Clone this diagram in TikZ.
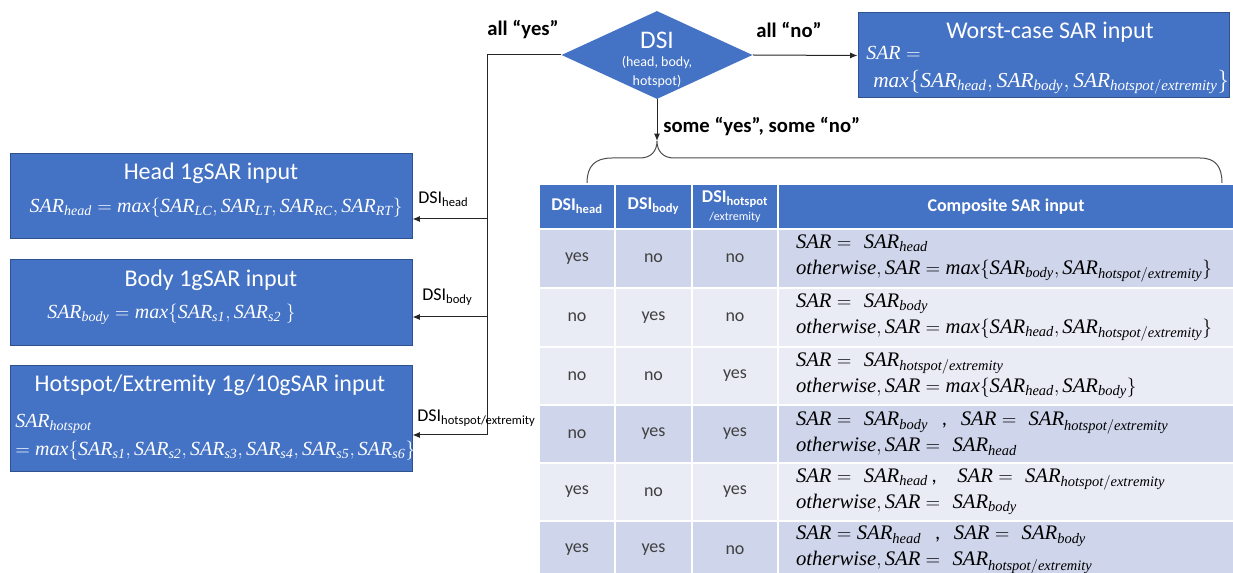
\documentclass[tikz,border=0pt]{standalone}
\usepackage{fontspec}
\setmainfont{Carlito}
\newfontfamily\libser[NFSSFamily=libser]{Liberation Serif}
\DeclareMathAlphabet{\mathlib}{TU}{libser}{m}{it}
\usetikzlibrary{shapes.geometric,arrows.meta}
\definecolor{obl}{HTML}{4472C4}
\definecolor{obd}{HTML}{2F528F}
\definecolor{rowA}{HTML}{CFD5EA}
\definecolor{rowB}{HTML}{E9EBF5}
\newcommand{\Sv}{\mathlib{SAR}}
\newcommand{\Ss}[1]{\mathlib{SAR}_{\mathlib{#1}}}
\newcommand{\Mx}{\mathlib{max}}
\newcommand{\Ow}{\mathlib{otherwise}}
\begin{document}
\begin{tikzpicture}[x=0.75pt,y=-0.75pt,
  bluebox/.style={fill=obl, draw=obd, line width=0.75pt, inner sep=0, minimum width=301.5pt},
  ttl/.style={text=white, font=\fontsize{18}{21}\selectfont, inner sep=0},
  wmath/.style={text=white, font=\fontsize{15}{17}\selectfont, inner sep=0},
  lbl/.style={font=\bfseries\fontsize{15.5}{18}\selectfont, inner sep=0},
  dsil/.style={font=\fontsize{13.5}{16}\selectfont, inner sep=0, anchor=west},
  conn/.style={draw=black!85, line width=0.75pt},
  arr/.style={conn, -{Latex[length=5.5pt,width=4.5pt]}},
  hcell/.style={fill=obl, draw=white, line width=1.5pt, anchor=north west, inner sep=0, text=white, align=center, font=\bfseries\fontsize{13.5}{14}\selectfont},
  cell/.style={draw=white, line width=1.5pt, anchor=north west, inner sep=0, text=black!75, font=\fontsize{13.5}{15}\selectfont},
  ccell/.style={cell, align=left, text width=315pt, inner xsep=13.5pt, text=black, font=\fontsize{15.5}{19.5}\selectfont}
]
\useasboundingbox (0,0) rectangle (1233,573);

% decision diamond
\node[diamond, fill=obl, draw=none, minimum width=143.25pt, minimum height=66pt, inner sep=0] (dsi) at (657,55) {};
\node[text=white, font=\fontsize{19}{21}\selectfont, inner sep=0] (dsiT) at (657,40) {DSI};
\node[text=white, font=\fontsize{10.5}{14}\selectfont, align=center, inner sep=0] (dsiS) at (657,72) {(head, body,\\hotspot)};

% worst case box
\node[bluebox, minimum width=278.25pt, minimum height=63.75pt] (worst) at (1043.5,55.5) {};
\node[ttl] (worstT) at (1050,32) {Worst-case SAR input};
\node[wmath, anchor=west] (worstF1) at (866,53) {$\Sv =$};
\node[wmath, anchor=west, font=\fontsize{16}{18}\selectfont] (worstF2) at (873,82) {$\Mx\bigl\{\Ss{head},\Ss{body},\Ss{hotspot/extremity}\bigr\}$};

% left boxes
\node[bluebox, minimum height=63.75pt] (head) at (211,196.5) {};
\node[ttl] (headT) at (211,173) {Head 1gSAR input};
\node[wmath] (headF) at (216,208) {$\Ss{head} = \Mx\{\Ss{LC},\Ss{LT},\Ss{RC},\Ss{RT}\}$};

\node[bluebox, minimum height=64.5pt] (body) at (211,303) {};
\node[ttl] (bodyT) at (211,280) {Body 1gSAR input};
\node[wmath, anchor=west] (bodyF) at (47,314) {$\Ss{body} = \Mx\{\Ss{s1},\Ss{s2}\ \}$};

\node[bluebox, minimum height=79.5pt] (hot) at (211,419) {};
\node[ttl] (hotT) at (210,385) {Hotspot/Extremity 1g/10gSAR input};
\node[wmath, anchor=west] (hotF1) at (15,424) {$\Ss{hotspot}$};
\node[wmath, anchor=west] (hotF2) at (15,451) {$= \Mx\{\Ss{s1},\Ss{s2},\Ss{s3},\Ss{s4},\Ss{s5},\Ss{s6}\}$};

% branch labels
\node[lbl] (ally) at (523,30) {all “yes”};
\node[lbl] (alln) at (789,30) {all “no”};
\node[lbl, anchor=west] (some) at (663,126) {some “yes”, some “no”};

% connectors
\draw[arr] (dsi.east) -- (worst.west);
\coordinate (busTop) at (487,55);
\coordinate (tapH) at (487,219);
\coordinate (tapB) at (487,317);
\coordinate (busBot) at (487,435);
\draw[conn] (dsi.west) -- (busTop) -- (busBot);
\draw[arr] (tapH) -- (head.east |- tapH);
\draw[arr] (tapB) -- (body.east |- tapB);
\draw[arr] (busBot) -- (hot.east |- busBot);
\node[dsil] (lH) at (418,199) {DSI\textsubscript{head}};
\node[dsil] (lB) at (422,297) {DSI\textsubscript{body}};
\node[dsil] (lX) at (417,418) {DSI\textsubscript{hotspot/extremity}};

% brace
\coordinate (tip) at (657,141);
\draw[arr] (dsi.south) -- (tip);
\draw[draw=black!70, line width=0.75pt] (587,183) .. controls (587,166) and (595,158) .. (612,158) -- (640,158) .. controls (651,158) and (657,151) .. (tip) .. controls (657,151) and (663,158) .. (674,158) -- (1200,158) .. controls (1215,158) and (1222,166) .. (1222,183);

% table header
\node[hcell, minimum width=57pt, minimum height=33.75pt] (h1) at (538,183) {DSI\textsubscript{head}};
\node[hcell, minimum width=57.75pt, minimum height=33.75pt] (h2) at (614,183) {DSI\textsubscript{body}};
\node[hcell, minimum width=64.5pt, minimum height=33.75pt] (h3) at (691,183) {DSI\textsubscript{hotspot}\\[-1pt]{\mdseries\fontsize{9}{10}\selectfont /extremity}};
\node[hcell, minimum width=342pt, minimum height=33.75pt] (h4) at (777,183) {Composite SAR input};

% row 1
\node[cell, fill=rowA, minimum width=57pt, minimum height=44.25pt] (r1a) at (538,228) {yes};
\node[cell, fill=rowA, minimum width=57.75pt, minimum height=44.25pt] (r1b) at (614,228) {no};
\node[cell, fill=rowA, minimum width=64.5pt, minimum height=44.25pt] (r1c) at (691,228) {no};
\node[ccell, fill=rowA, minimum height=44.25pt] (r1d) at (777,228) {$\Sv =\ \Ss{head}$\\$\Ow,\Sv = \Mx\bigl\{\Ss{body},\Ss{hotspot/extremity}\bigr\}$};
% row 2
\node[cell, fill=rowB, minimum width=57pt, minimum height=44.25pt] (r2a) at (538,287) {no};
\node[cell, fill=rowB, minimum width=57.75pt, minimum height=44.25pt] (r2b) at (614,287) {yes};
\node[cell, fill=rowB, minimum width=64.5pt, minimum height=44.25pt] (r2c) at (691,287) {no};
\node[ccell, fill=rowB, minimum height=44.25pt] (r2d) at (777,287) {$\Sv =\ \Ss{body}$\\$\Ow,\Sv = \Mx\bigl\{\Ss{head},\Ss{hotspot/extremity}\bigr\}$};
% row 3
\node[cell, fill=rowB, minimum width=57pt, minimum height=43.5pt] (r3a) at (538,346) {no};
\node[cell, fill=rowB, minimum width=57.75pt, minimum height=43.5pt] (r3b) at (614,346) {no};
\node[cell, fill=rowB, minimum width=64.5pt, minimum height=43.5pt] (r3c) at (691,346) {yes};
\node[ccell, fill=rowB, minimum height=43.5pt] (r3d) at (777,346) {$\Sv =\ \Ss{hotspot/extremity}$\\$\Ow,\Sv = \Mx\bigl\{\Ss{head},\Ss{body}\bigr\}$};
% row 4
\node[cell, fill=rowA, minimum width=57pt, minimum height=43.5pt] (r4a) at (538,404) {no};
\node[cell, fill=rowA, minimum width=57.75pt, minimum height=43.5pt] (r4b) at (614,404) {yes};
\node[cell, fill=rowA, minimum width=64.5pt, minimum height=43.5pt] (r4c) at (691,404) {yes};
\node[ccell, fill=rowA, minimum height=43.5pt] (r4d) at (777,404) {$\Sv =\ \Ss{body}$\ \ ,\ \ $\Sv =\ \Ss{hotspot/extremity}$\\$\Ow,\Sv =\ \Ss{head}$};
% row 5
\node[cell, fill=rowB, minimum width=57pt, minimum height=43.5pt] (r5a) at (538,462) {yes};
\node[cell, fill=rowB, minimum width=57.75pt, minimum height=43.5pt] (r5b) at (614,462) {no};
\node[cell, fill=rowB, minimum width=64.5pt, minimum height=43.5pt] (r5c) at (691,462) {yes};
\node[ccell, fill=rowB, minimum height=43.5pt] (r5d) at (777,462) {$\Sv =\ \Ss{head}$\,,\ \ \ $\Sv =\ \Ss{hotspot/extremity}$\\$\Ow,\Sv =\ \Ss{body}$};
% row 6
\node[cell, fill=rowA, minimum width=57pt, minimum height=43.5pt] (r6a) at (538,520) {yes};
\node[cell, fill=rowA, minimum width=57.75pt, minimum height=43.5pt] (r6b) at (614,520) {yes};
\node[cell, fill=rowA, minimum width=64.5pt, minimum height=43.5pt] (r6c) at (691,520) {no};
\node[ccell, fill=rowA, minimum height=43.5pt] (r6d) at (777,520) {$\Sv = \Ss{head}$\ \ ,\ \ $\Sv =\ \Ss{body}$\\$\Ow,\Sv =\ \Ss{hotspot/extremity}$};
\end{tikzpicture}
\end{document}
